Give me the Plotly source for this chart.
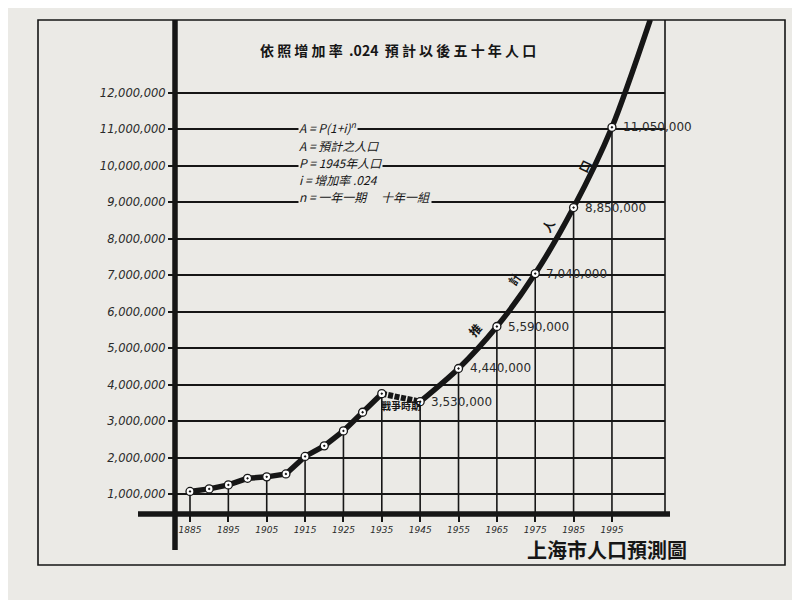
import plotly.graph_objects as go

# ---------------- data ----------------
hist_years = [1885, 1890, 1895, 1900, 1905, 1910, 1915, 1920, 1925, 1930, 1935]
hist_pop = [1070000, 1140000, 1250000, 1430000, 1470000, 1550000, 2030000, 2320000, 2730000, 3240000, 3750000]

war_years = [1935, 1945]
war_pop = [3750000, 3530000]

proj_years = [1945, 1955, 1965, 1975, 1985, 1995, 2005]
proj_pop = [3530000, 4440000, 5590000, 7040000, 8850000, 11050000, 14000000]

label_years = [1945, 1955, 1965, 1975, 1985, 1995]
label_text = ["3,530,000", "4,440,000", "5,590,000", "7,040,000", "8,850,000", "11,050,000"]

tick_years = [1885, 1895, 1905, 1915, 1925, 1935, 1945, 1955, 1965, 1975, 1985, 1995]
tick_year_labels = [str(y) for y in tick_years]

y_ticks = [1000000, 2000000, 3000000, 4000000, 5000000, 6000000,
           7000000, 8000000, 9000000, 10000000, 11000000, 12000000]
y_tick_labels = ["1,000,000", "2,000,000", "3,000,000", "4,000,000", "5,000,000", "6,000,000",
                 "7,000,000", "8,000,000", "9,000,000", "10,000,000", "11,000,000", "12,000,000"]

title_text = "依 照 增 加 率  .024  預 計 以 後 五 十 年 人 口"
chart_name = "上海市人口預測圖"
formula_lines = ["A = P(1+i)<sup>n</sup>", "A = 預計之人口", "P = 1945年人口",
                 "i = 增加率 .024", "n = 一年一期　 十年一組"]
war_label = "戰爭時期"
curve_chars = ["推", "計", "人", "口"]

# ---------------- styling ----------------
BG = "#ebeae6"
INK = "#161616"
CJK = "Noto Sans CJK TC"
Y_MIN, Y_MAX = 452000, 13990000
X_MIN, X_MAX = 1881.09, 2008.83

# lookup for drop lines
all_vals = dict(zip(hist_years, hist_pop))
all_vals.update(dict(zip(proj_years, proj_pop)))

fig = go.Figure()

# drop lines from points to the axis
dx, dy = [], []
for yr in tick_years:
    dx += [yr, yr, None]
    dy += [all_vals[yr], Y_MIN, None]
fig.add_trace(go.Scatter(x=dx, y=dy, mode="lines", line=dict(color=INK, width=1.6),
                         hoverinfo="skip", showlegend=False))

# historical line
fig.add_trace(go.Scatter(x=hist_years, y=hist_pop, mode="lines",
                         line=dict(color=INK, width=5.5), showlegend=False))
# war period (dashed)
fig.add_trace(go.Scatter(x=war_years, y=war_pop, mode="lines",
                         line=dict(color=INK, width=6, dash="5px,1.5px"), showlegend=False))
# projection curve
fig.add_trace(go.Scatter(x=proj_years, y=proj_pop, mode="lines",
                         line=dict(color=INK, width=5.5, shape="spline", smoothing=0.8),
                         showlegend=False))
# markers
mk_x = hist_years + proj_years[:-1]
mk_y = hist_pop + proj_pop[:-1]
fig.add_trace(go.Scatter(x=mk_x, y=mk_y, mode="markers",
                         marker=dict(symbol="circle-dot", size=8, color="white",
                                     line=dict(color=INK, width=1.3)),
                         showlegend=False))

# value labels
for yr, txt in zip(label_years, label_text):
    fig.add_annotation(x=yr, y=all_vals[yr], text=txt, xref="x", yref="y",
                       xanchor="left", yanchor="middle", xshift=9, showarrow=False,
                       font=dict(family="DejaVu Sans", size=12, color="#2a2a2a"))

# war period label
fig.add_annotation(x=1940, y=3430000, text="<b>" + war_label + "</b>", xref="x", yref="y",
                   xanchor="center", yanchor="middle",
                   showarrow=False, font=dict(family=CJK, size=10, color=INK))

# characters along the curve
curve_pos = [(1959.3, 5500000, -48), (1969.5, 6900000, -55), (1978.3, 8350000, -60), (1987.8, 10000000, -64)]
for ch, (cx, cy, ang) in zip(curve_chars, curve_pos):
    fig.add_annotation(x=cx, y=cy, text="<b>" + ch + "</b>", xref="x", yref="y", showarrow=False,
                       xanchor="center", yanchor="middle",
                       textangle=ang, font=dict(family=CJK, size=12, color=INK))

# title
fig.add_annotation(x=(398 - 175) / 490, y=(514 - 50) / 494, xref="paper", yref="paper",
                   xanchor="center", yanchor="middle",
                   text="<b>" + title_text + "</b>", showarrow=False,
                   font=dict(family=CJK, size=14, color=INK))

# formula block
form_py = [127, 145, 162, 180, 196]
for txt, py in zip(formula_lines, form_py):
    fig.add_annotation(x=(298 - 175) / 490, y=(514 - py) / 494, xref="paper", yref="paper",
                       text=txt, showarrow=False, xanchor="left", yanchor="middle",
                       bgcolor=BG, borderpad=0,
                       font=dict(family=CJK, size=12, color=INK, style="italic"))

# chart name bottom right
fig.add_annotation(x=(607 - 175) / 490, y=(514 - 549) / 494, xref="paper", yref="paper",
                   xanchor="center", yanchor="middle",
                   text="<b>" + chart_name + "</b>", showarrow=False,
                   font=dict(family=CJK, size=20, color=INK))

# axis lines, borders and frame
fig.add_shape(type="rect", xref="paper", yref="paper",
              x0=(38 - 175) / 490, x1=(785 - 175) / 490, y0=(514 - 565) / 494, y1=1.0,
              line=dict(color=INK, width=1.6), layer="below")
fig.add_shape(type="line", xref="paper", yref="paper", x0=1, x1=1, y0=0, y1=1,
              line=dict(color=INK, width=1.6))
fig.add_shape(type="line", xref="paper", yref="paper", x0=0, x1=0,
              y0=(514 - 550) / 494, y1=1, line=dict(color=INK, width=5.5))
fig.add_shape(type="line", xref="paper", yref="paper", x0=(138 - 175) / 490,
              x1=(670 - 175) / 490, y0=0, y1=0, line=dict(color=INK, width=5.5))

fig.update_xaxes(range=[X_MIN, X_MAX], showgrid=False, zeroline=False, showline=False,
                 tickmode="array", tickvals=tick_years, ticktext=tick_year_labels,
                 ticks="outside", ticklen=7, tickwidth=1.6, tickcolor=INK,
                 tickfont=dict(family="DejaVu Sans", size=9, color="#2a2a2a", style="italic"))
fig.update_yaxes(range=[Y_MIN, Y_MAX], showgrid=True, gridcolor=INK, gridwidth=1.5,
                 zeroline=False, showline=False,
                 tickmode="array", tickvals=y_ticks, ticktext=y_tick_labels,
                 ticks="outside", ticklen=6, tickwidth=1.5, tickcolor=INK,
                 tickfont=dict(family="DejaVu Sans", size=11.5, color="#2a2a2a", style="italic"))

# the page adds an 8px body margin, so the figure is sized to fit the 800x600 window
fig.update_layout(width=792, height=592, autosize=False,
                  margin=dict(l=167, r=135, t=12, b=86),
                  paper_bgcolor=BG, plot_bgcolor=BG, showlegend=False)

fig.write_html("out.html")
